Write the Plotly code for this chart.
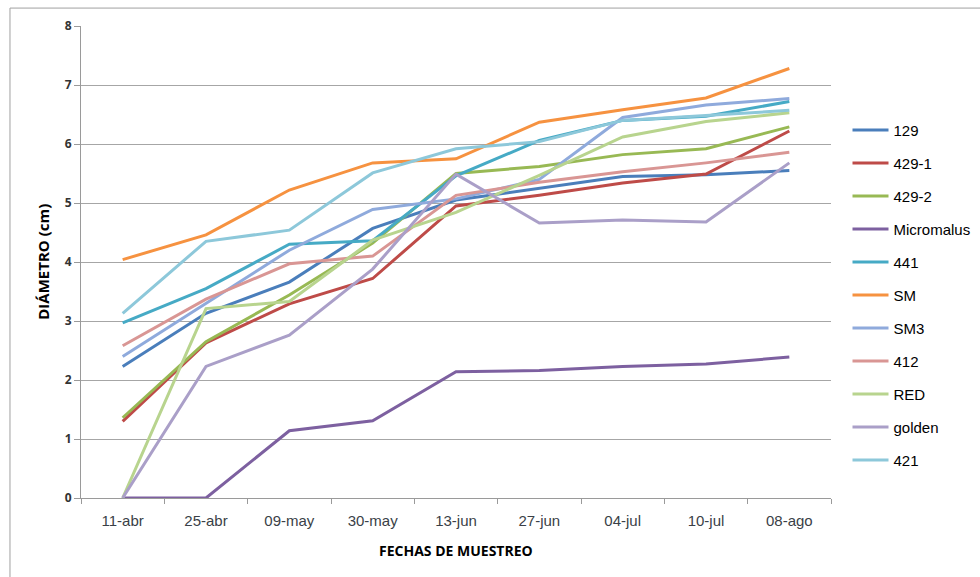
import plotly.graph_objects as go

# Sampling dates (x categories)
fechas = ["11-abr", "25-abr", "09-may", "30-may", "13-jun", "27-jun",
          "04-jul", "10-jul", "08-ago"]

# Fruit diameter (cm) per variety
d_129 = [2.23, 3.13, 3.66, 4.57, 5.05, 5.25, 5.45, 5.48, 5.55]
d_429_1 = [1.30, 2.63, 3.29, 3.72, 4.95, 5.13, 5.34, 5.49, 6.22]
d_429_2 = [1.36, 2.65, 3.44, 4.32, 5.50, 5.62, 5.82, 5.92, 6.29]
d_micromalus = [0, 0, 1.14, 1.31, 2.14, 2.16, 2.23, 2.27, 2.39]
d_441 = [2.97, 3.55, 4.30, 4.36, 5.46, 6.06, 6.40, 6.47, 6.72]
d_sm = [4.04, 4.46, 5.22, 5.68, 5.75, 6.37, 6.58, 6.78, 7.28]
d_sm3 = [2.40, 3.30, 4.20, 4.89, 5.07, 5.40, 6.45, 6.66, 6.77]
d_412 = [2.58, 3.37, 3.97, 4.10, 5.13, 5.35, 5.53, 5.68, 5.86]
d_red = [0, 3.21, 3.33, 4.37, 4.84, 5.47, 6.12, 6.38, 6.53]
d_golden = [0, 2.23, 2.76, 3.88, 5.49, 4.66, 4.71, 4.68, 5.68]
d_421 = [3.13, 4.35, 4.54, 5.51, 5.92, 6.04, 6.40, 6.49, 6.57]

series = [
    ("129", d_129, "#4A7EBB"),
    ("429-1", d_429_1, "#BE4B48"),
    ("429-2", d_429_2, "#98B954"),
    ("Micromalus", d_micromalus, "#7D60A0"),
    ("441", d_441, "#46AAC5"),
    ("SM", d_sm, "#F69240"),
    ("SM3", d_sm3, "#8FAADC"),
    ("412", d_412, "#D99694"),
    ("RED", d_red, "#B8D48E"),
    ("golden", d_golden, "#AA9FC8"),
    ("421", d_421, "#8DC8DA"),
]

fig = go.Figure()
for i, (name, vals, color) in enumerate(series):
    fig.add_trace(go.Scatter(
        x=fechas, y=vals, name=name, mode="lines",
        line=dict(color=color, width=3),
        legendgroup=f"g{i}",
    ))

tick_font = dict(family="Liberation Sans, Arial, sans-serif", size=15, color="#3a3f47")

fig.update_layout(
    width=980, height=577,
    margin=dict(l=81, r=149, t=26, b=79, autoexpand=False),
    paper_bgcolor="white", plot_bgcolor="white",
    showlegend=True,
    legend=dict(
        x=1.022, y=0.814, xanchor="left", yanchor="top",
        font=dict(family="Liberation Sans, Arial, sans-serif", size=15, color="#000000"),
        tracegroupgap=10.5, itemwidth=36, bgcolor="rgba(0,0,0,0)",
    ),
    xaxis=dict(
        type="category", range=[-0.5, 8.5],
        showgrid=False, showline=True, linecolor="#9a9a9a", linewidth=1,
        ticks="outside", tickson="boundaries", ticklen=5, tickcolor="#9a9a9a",
        tickfont=tick_font, ticklabelstandoff=9, zeroline=False,
    ),
    yaxis=dict(
        range=[0, 8], dtick=1, tick0=0,
        showgrid=True, gridcolor="#a6a6a6", gridwidth=1,
        showline=True, linecolor="#9a9a9a", linewidth=1,
        ticks="outside", ticklen=6, tickcolor="#9a9a9a",
        tickfont=dict(family="Open Sans, sans-serif", size=12, color="#333333", weight="bold"),
        zeroline=False,
    ),
    annotations=[
        dict(text="<b>DIÁMETRO (cm)</b>", xref="paper", yref="paper",
             x=-0.051, y=0.5, textangle=-90, showarrow=False,
             xanchor="center", yanchor="middle",
             font=dict(family="Open Sans, sans-serif", size=15, color="#000000")),
        dict(text="<b>FECHAS DE MUESTREO</b>", xref="paper", yref="paper",
             x=0.5, y=-0.112, showarrow=False,
             xanchor="center", yanchor="middle",
             font=dict(family="Open Sans, sans-serif", size=14, color="#000000")),
    ],
    shapes=[
        dict(type="rect", xref="paper", yref="paper",
             x0=-0.0947, x1=1.25, y0=-0.25, y1=1.038,
             line=dict(color="#a0a0a0", width=1), fillcolor="rgba(0,0,0,0)",
             layer="below"),
    ],
)

fig.write_html("out.html")
